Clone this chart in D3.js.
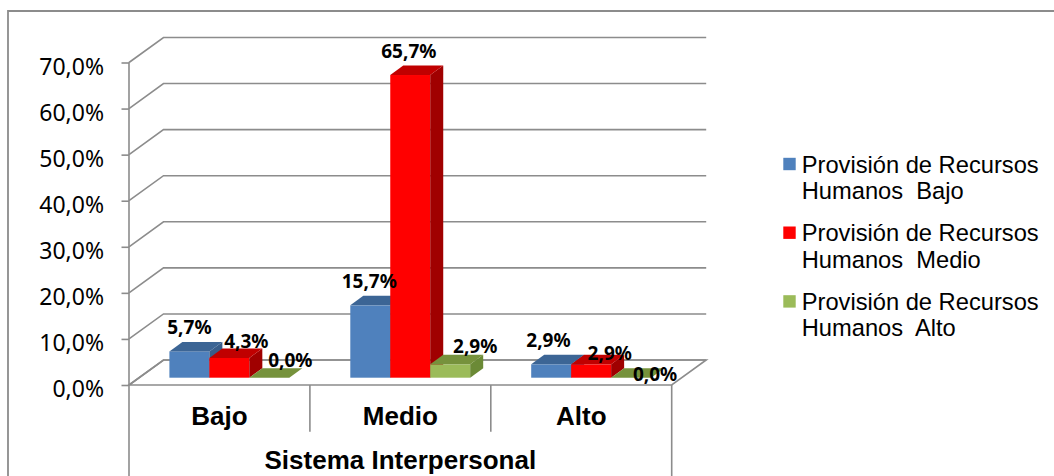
<html>
<head>
<script src="https://d3js.org/d3.v7.min.js"></script>
<style>
    body { margin: 0; background: #ffffff; }
    .grid { fill: none; stroke: #8c8c8c; stroke-width: 1.6; }
    .ylab { font-family: "Noto Sans", sans-serif; font-size: 23px; fill: #000; }
    .cat { font-family: "Liberation Sans", Arial, sans-serif; font-weight: bold; font-size: 26px; fill: #000; }
    .dlab { font-family: "Noto Sans", sans-serif; font-weight: bold; font-size: 19px; fill: #000; }
    .leg { font-family: "Liberation Sans", Arial, sans-serif; font-size: 23.7px; fill: #000; white-space: pre; }
</style>
</head>
<body>
<svg id="chart" width="1054" height="476"></svg>
<script>
// data
const categories = ["Bajo", "Medio", "Alto"];
const seriesNames = [
    "Provisión de Recursos\nHumanos  Bajo",
    "Provisión de Recursos\nHumanos  Medio",
    "Provisión de Recursos\nHumanos  Alto"
];
const recursosBajo  = [0.057, 0.157, 0.029];
const recursosMedio = [0.043, 0.657, 0.029];
const recursosAlto  = [0.000, 0.029, 0.000];
const yTicks = [0, 0.1, 0.2, 0.3, 0.4, 0.5, 0.6, 0.7];
const axisTitle = "Sistema Interpersonal";

// layout
const colors = [
    {front: "#4f81bd", top: "#3c6595", side: "#385d8a"},
    {front: "#ff0000", top: "#c00000", side: "#a00000"},
    {front: "#9bbb59", top: "#76923c", side: "#6b8a36"}
];
// hand-placed data label offsets (dx, dy) from the front-top centre of each bar
const labelNudge = [
    [[0, -17.5], [-1, -17.4], [-2.7, -17.6]],
    [[17, -9.6], [-1.4, -16.7], [18.6, -4.3]],
    [[21, -10.4], [25, -11], [24, 3]]
];

const values = [recursosBajo, recursosMedio, recursosAlto];
const svg = d3.select("svg#chart");
const fmt = d3.formatLocale({decimal: ",", thousands: ".", grouping: [3], currency: ["", "€"]}).format(".1%");

const plotLeft = 129, plotRight = 671.7;
const floorY = 385, topY = 62.5;
const depth = {x: 34.5, y: -25};          // depth of the 3D box
const barFront = {x: 9.9, y: -7.3};       // bars sit slightly into the box
const barDepth = {x: 13, y: -9.5};

const y = d3.scaleLinear().domain([0, 0.7]).range([floorY, topY]);
const x0 = d3.scaleBand().domain(categories).range([plotLeft, plotRight]);
const gap = 30.5;
const x1 = d3.scaleBand().domain(d3.range(seriesNames.length)).range([gap, x0.bandwidth() - gap]);

// outer chart frame (cut off at right and bottom)
svg.append("path").attr("class", "grid")
    .attr("d", "M8,476 V11 H1054").style("stroke-width", 1.8);

// floor
svg.append("path")
    .attr("d", `M${plotLeft},${floorY} H${plotRight} l${depth.x},${depth.y} H${plotLeft + depth.x} Z`)
    .attr("fill", "#fff").attr("stroke", "#8c8c8c").attr("stroke-width", 1.6);

// gridlines: side wall diagonal + back wall line
svg.append("g").selectAll("path").data(yTicks).join("path")
    .attr("class", "grid")
    .attr("d", t => `M${plotLeft},${y(t)} l${depth.x},${depth.y} H${plotRight + depth.x}`);

// value axis
const yAxis = d3.axisLeft(y).tickValues(yTicks).tickFormat(fmt)
    .tickSize(7.5).tickSizeOuter(0).tickPadding(17.5);
const ya = svg.append("g").attr("transform", `translate(${plotLeft},0)`).call(yAxis);
ya.select(".domain").remove();
ya.selectAll("line").attr("stroke", "#8c8c8c").attr("stroke-width", 1.6);
ya.selectAll("text").attr("class", "ylab").attr("dy", "0.5em").attr("font-family", null).attr("font-size", null);

// category axis box
svg.append("path").attr("class", "grid")
    .attr("d", `M${plotLeft},${topY} V476 M${plotRight},${floorY} V476`);
svg.append("g").selectAll("path").data(categories.slice(1)).join("path")
    .attr("class", "grid")
    .attr("d", c => `M${x0(c)},${floorY} V431.7`);
svg.append("g").selectAll("text").data(categories).join("text")
    .attr("class", "cat")
    .attr("x", c => x0(c) + x0.bandwidth() / 2)
    .attr("y", 425)
    .attr("text-anchor", "middle")
    .text(c => c);
svg.append("text").attr("class", "cat")
    .attr("x", (plotLeft + plotRight) / 2).attr("y", 469)
    .attr("text-anchor", "middle")
    .text(axisTitle);

// 3D bars
const bars = svg.append("g");
const baseY = floorY + barFront.y;
categories.forEach((c, ci) => {
    seriesNames.forEach((s, si) => {
        const v = values[si][ci];
        const bx = x0(c) + barFront.x + x1(si);
        const w = x1.bandwidth();
        const ty = y(v) + barFront.y;
        const col = colors[si];
        if (v > 0) {
            bars.append("rect").attr("x", bx).attr("y", ty).attr("width", w).attr("height", baseY - ty)
                .attr("fill", col.front);
            bars.append("path")
                .attr("d", `M${bx + w},${ty} l${barDepth.x},${barDepth.y} V${baseY + barDepth.y} L${bx + w},${baseY} Z`)
                .attr("fill", col.side);
        }
        bars.append("path")
            .attr("d", `M${bx},${ty} H${bx + w} l${barDepth.x},${barDepth.y} H${bx + barDepth.x} Z`)
            .attr("fill", col.top);
    });
});

// data labels
const labels = svg.append("g");
categories.forEach((c, ci) => {
    seriesNames.forEach((s, si) => {
        const v = values[si][ci];
        const cx = x0(c) + barFront.x + x1(si) + x1.bandwidth() / 2;
        const ty = y(v) + barFront.y;
        labels.append("text").attr("class", "dlab")
            .attr("x", cx + labelNudge[si][ci][0])
            .attr("y", ty + labelNudge[si][ci][1])
            .attr("text-anchor", "middle")
            .text(fmt(v));
    });
});

// legend
const legend = svg.append("g").attr("transform", "translate(783.3,172.5)");
const item = legend.selectAll("g").data(seriesNames).join("g")
    .attr("transform", (d, i) => `translate(0,${i * 68.7})`);
item.append("rect").attr("x", 0).attr("y", -14.7).attr("width", 12.4).attr("height", 12.4)
    .attr("fill", (d, i) => colors[i].front);
item.append("text").attr("class", "leg")
    .selectAll("tspan").data(d => d.split("\n")).join("tspan")
    .attr("x", 18.4).attr("y", (d, j) => j * 26.5)
    .text(d => d);
</script>
</body>
</html>
